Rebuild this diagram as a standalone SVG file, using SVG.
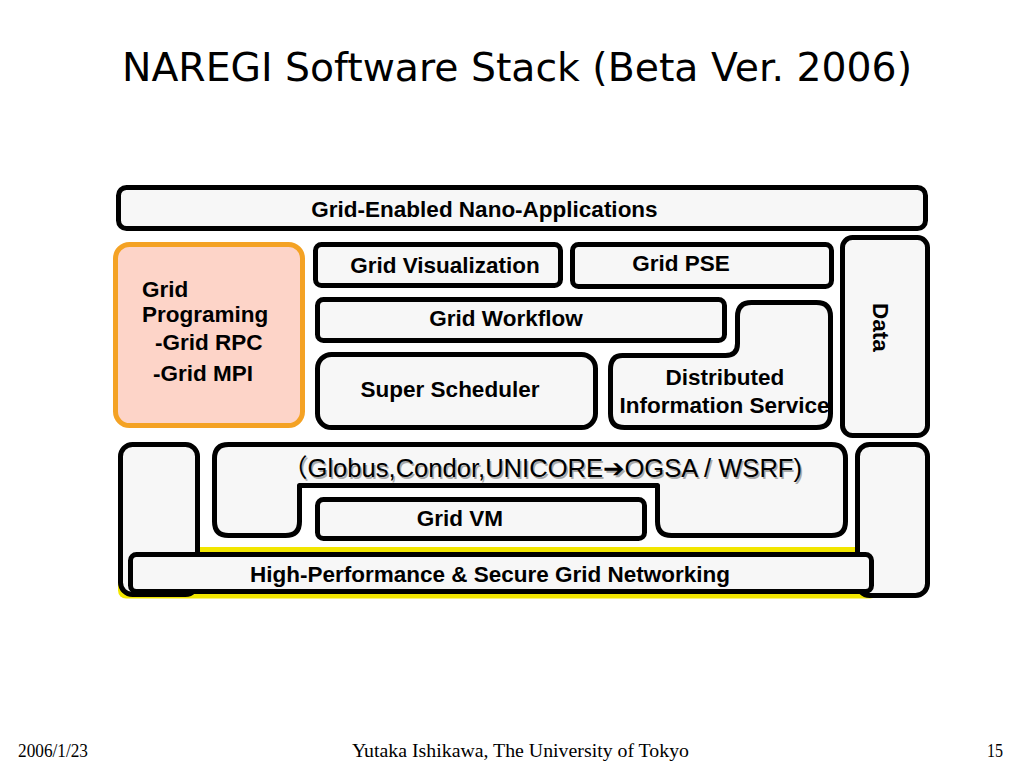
<svg xmlns="http://www.w3.org/2000/svg" width="1024" height="768" viewBox="0 0 1024 768">
<style>
.box{fill:#f7f7f7;stroke:#000;stroke-width:5;stroke-linejoin:round}
.lbl{font-family:"Liberation Sans",Arial,sans-serif;font-weight:bold;font-size:22.5px;fill:#000}
.mid{text-anchor:middle}
.foot{font-family:"Liberation Serif","Times New Roman",serif;font-size:19px;fill:#000}
.mw{font-family:"Liberation Sans",Arial,"Noto Sans CJK JP",sans-serif;font-size:25px}
</style>
<rect width="1024" height="768" fill="#fff"/>
<text x="517" y="81" font-family="'DejaVu Sans',sans-serif" font-size="39" textLength="790" lengthAdjust="spacingAndGlyphs" text-anchor="middle" fill="#000">NAREGI Software Stack (Beta Ver. 2006)</text>

<g id="apps"><rect class="box" x="118.5" y="187.5" width="807" height="41" rx="8"/><text class="lbl mid" x="484.5" y="217">Grid-Enabled Nano-Applications</text></g>

<g id="gridprog"><rect x="115.5" y="244.5" width="187" height="181" rx="14" fill="#fdd4c8" stroke="#f4a224" stroke-width="5"/>
<text class="lbl" x="142" y="297">Grid</text>
<text class="lbl" x="142" y="322">Programing</text>
<text class="lbl" x="155" y="350">-Grid RPC</text>
<text class="lbl" x="153" y="381">-Grid MPI</text></g>

<g id="gridvis"><rect class="box" x="315.5" y="244.5" width="245" height="41" rx="6"/><text class="lbl mid" x="445" y="273">Grid Visualization</text></g>
<g id="gridpse"><rect class="box" x="572.5" y="244.5" width="259" height="42" rx="6"/><text class="lbl mid" x="681" y="271">Grid PSE</text></g>
<g id="workflow"><rect class="box" x="317.5" y="299.5" width="407" height="41" rx="6"/><text class="lbl mid" x="506" y="326">Grid Workflow</text></g>
<g id="scheduler"><rect class="box" x="317.5" y="354.5" width="278" height="73" rx="14"/><text class="lbl mid" x="450" y="397">Super Scheduler</text></g>
<g id="dis"><path class="box" d="M622.5 355.5 L725.5 355.5 Q737.5 355.5 737.5 343.5 L737.5 316.5 Q737.5 302.5 751.5 302.5 L816.5 302.5 Q830.5 302.5 830.5 316.5 L830.5 413.5 Q830.5 427.5 816.5 427.5 L624.5 427.5 Q610.5 427.5 610.5 413.5 L610.5 369.5 Q610.5 355.5 622.5 355.5 Z"/>
<text class="lbl mid" x="725" y="385">Distributed</text><text class="lbl mid" x="724.5" y="413">Information Service</text></g>
<g id="data"><rect class="box" x="842.5" y="237.5" width="85" height="198" rx="10"/><text class="lbl mid" transform="translate(873 327.5) rotate(90)" x="0" y="0">Data</text></g>

<rect x="118" y="547" width="760" height="51.5" rx="8" fill="#f2e600"/>
<g id="leftbox"><rect class="box" x="120.5" y="444.5" width="77" height="150" rx="12"/></g>
<g id="rightbox"><rect class="box" x="857.5" y="444.5" width="70" height="151" rx="12"/></g>
<g id="middleware"><path class="box" d="M228.5 444.5 L831.5 444.5 Q845.5 444.5 845.5 458.5 L845.5 521.5 Q845.5 535.5 831.5 535.5 L671.5 535.5 Q657.5 535.5 657.5 521.5 L657.5 485.5 L299.5 485.5 L299.5 521.5 Q299.5 535.5 285.5 535.5 L228.5 535.5 Q214.5 535.5 214.5 521.5 L214.5 458.5 Q214.5 444.5 228.5 444.5 Z"/>
<text class="mw" x="283.5" y="478.5" textLength="520" lengthAdjust="spacingAndGlyphs" fill="#aaa">（Globus,Condor,UNICORE➔OGSA / WSRF)</text>
<text class="mw" x="282" y="477" textLength="520" lengthAdjust="spacingAndGlyphs" fill="#000">（Globus,Condor,UNICORE➔OGSA / WSRF)</text></g>
<g id="gridvm"><rect class="box" x="317.5" y="499.5" width="327" height="39" rx="6"/><text class="lbl mid" x="460" y="526">Grid VM</text></g>
<g id="network"><rect class="box" x="130.5" y="554.5" width="741" height="37" rx="6"/><text class="lbl mid" x="490" y="582">High-Performance &amp; Secure Grid Networking</text></g>
<g id="connectors"></g>

<text class="foot" x="18" y="757" textLength="70" lengthAdjust="spacingAndGlyphs">2006/1/23</text>
<text class="foot" x="352" y="757" textLength="337" lengthAdjust="spacingAndGlyphs">Yutaka Ishikawa, The University of Tokyo</text>
<text class="foot" x="987" y="757" textLength="16" lengthAdjust="spacingAndGlyphs">15</text>
</svg>
